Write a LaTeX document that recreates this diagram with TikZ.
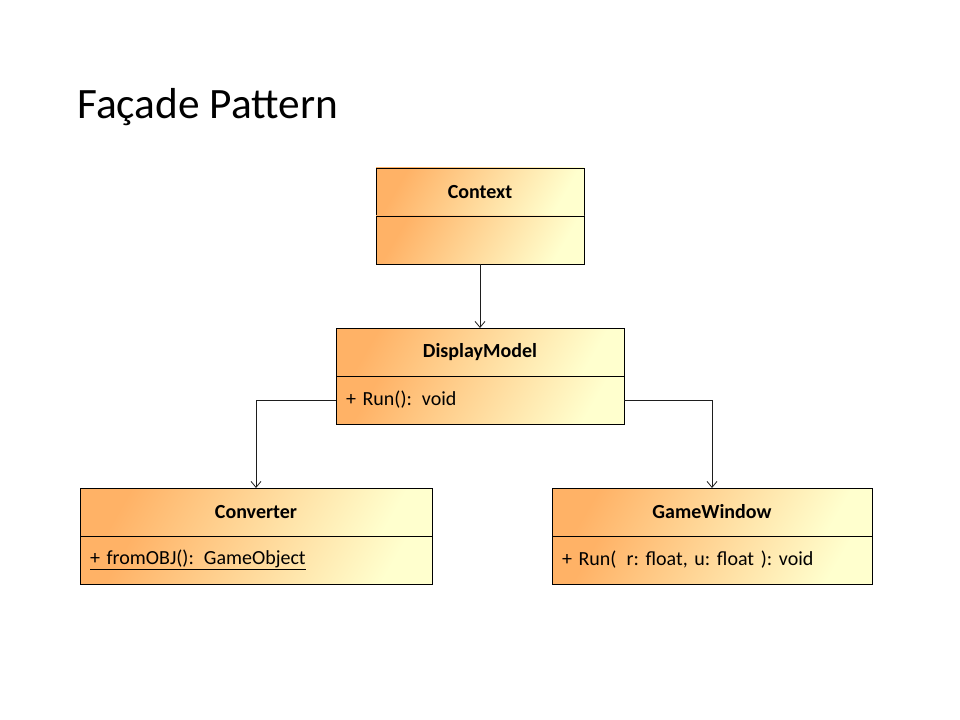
\documentclass[tikz,border=0pt]{standalone}
\usepackage{fontspec}
\setmainfont{Carlito}
\usetikzlibrary{positioning}
\usetikzlibrary{arrows.meta}
\definecolor{umlorange}{RGB}{255,178,102}
\definecolor{umlyellow}{RGB}{255,255,206}
\definecolor{wire}{RGB}{30,30,30}
\frenchspacing

\begin{document}
\begin{tikzpicture}[
    x=0.75pt, y=-0.75pt,
    node distance=0pt,
    >={Straight Barb[length=4.5pt,width=7.5pt]},
    % node styles
    head/.style = {
      draw=black,
      line width=0.6pt,
      outer sep=0pt,
      inner sep=0pt,
      left color=umlorange,
      right color=umlyellow,
      shading angle=60,
      minimum width=#1,
      minimum height=36pt,
      font=\fontsize{15}{18}\selectfont\bfseries
    },
    body/.style = {
      draw=black,
      line width=0.6pt,
      outer sep=0pt,
      inner xsep=7.5pt,
      inner ysep=0pt,
      left color=umlorange,
      right color=umlyellow,
      shading angle=60,
      text width=\dimexpr #1-15pt\relax,
      minimum height=36pt,
      align=left,
      font=\fontsize{15}{18}\selectfont
    },
    % arrow styles
    arr/.style = {->, line width=0.6pt, draw=wire}
  ]

  \useasboundingbox[fill=white] (0,0) rectangle (960,720);

  % --- Title
  \node[anchor=west, inner sep=0pt, font=\fontsize{32.5}{38}\selectfont] (title) at (77,107) {Façade Pattern};

  % --- Nodes
  \node[head=156pt, anchor=north] (ctx) at (480,168) {Context};
  \node[body=156pt, below=of ctx] (ctxbody) {};

  \node[head=216pt, anchor=north] (dm) at (480,328) {DisplayModel};
  \node[body=216pt, below=of dm] (dmbody) {+ Run():\, void};

  \node[head=264pt, anchor=north] (conv) at (256,488) {Converter};
  \node[body=264pt, below=of conv] (convbody) {\underline{+ fromOBJ():\, GameObject}};

  \node[head=240pt, anchor=north] (gw) at (712,488) {GameWindow};
  \node[body=240pt, below=of gw] (gwbody) {+ Run(\, r: float, u: float ): void};

  % --- Arrows
  \draw[arr] (ctxbody) -- (dm);
  \draw[arr] (dmbody.west) -| (conv);
  \draw[arr] (dmbody.east) -| (gw);

\end{tikzpicture}
\end{document}
